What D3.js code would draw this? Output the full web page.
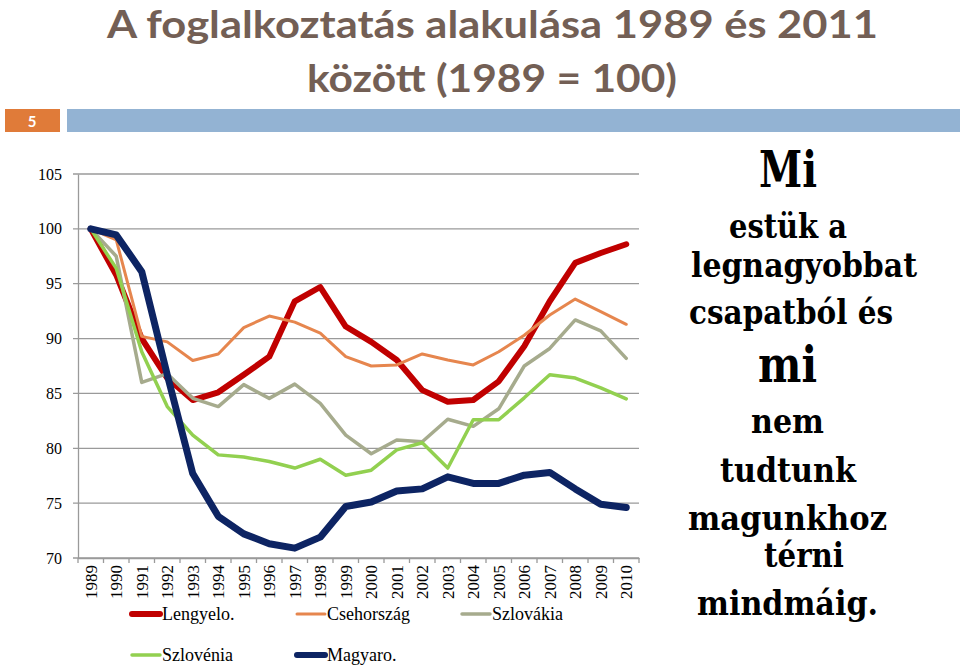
<!DOCTYPE html>
<html><head><meta charset="utf-8">
<script src="https://cdn.jsdelivr.net/npm/d3@7"></script>
<style>body{margin:0;background:#fff}svg{display:block}</style>
</head><body>
<svg id="c" width="960" height="665"></svg>
<script>
const years = ["1989","1990","1991","1992","1993","1994","1995","1996","1997","1998","1999","2000","2001","2002","2003","2004","2005","2006","2007","2008","2009","2010"];
const lengyelo   = [100,95.8,90.0,86.4,84.4,85.1,86.7,88.35,93.4,94.7,91.1,89.7,88.05,85.3,84.25,84.4,86.1,89.3,93.4,96.9,97.8,98.6];
const csehorszag = [100,99.0,90.2,89.7,88.0,88.6,91.0,92.05,91.5,90.5,88.35,87.5,87.6,88.6,88.05,87.6,88.8,90.3,92.15,93.6,92.45,91.3];
const szlovakia  = [100,97.5,86.0,86.8,84.55,83.8,85.8,84.55,85.85,84.1,81.2,79.5,80.75,80.6,82.65,82.0,83.6,87.5,89.1,91.7,90.7,88.2];
const szlovenia  = [100,96.4,88.8,83.8,81.2,79.4,79.2,78.8,78.2,79.0,77.55,78.0,79.85,80.5,78.2,82.6,82.6,84.6,86.7,86.4,85.5,84.5];
const magyaro    = [100,99.45,96.1,86.7,77.7,73.8,72.2,71.3,70.9,71.9,74.7,75.1,76.1,76.3,77.4,76.8,76.8,77.55,77.8,76.3,74.9,74.6];
const seriesNames = ["Lengyelo.","Csehország","Szlovákia","Szlovénia","Magyaro."];
const yTicks = [70,75,80,85,90,95,100,105];
const titleLines = ["A foglalkoztatás alakulása 1989 és 2011","között (1989 = 100)"];
const sideText = ["Mi","estük a","legnagyobbat","csapatból és","mi","nem","tudtunk","magunkhoz","térni","mindmáig."];

const series = [
  {name: seriesNames[0], values: lengyelo,   color:"#c00000", w:6},
  {name: seriesNames[1], values: csehorszag, color:"#e6864e", w:3},
  {name: seriesNames[2], values: szlovakia,  color:"#a6ab8d", w:3.5},
  {name: seriesNames[3], values: szlovenia,  color:"#92d050", w:3.5},
  {name: seriesNames[4], values: magyaro,    color:"#0d2463", w:7}
];

const svg = d3.select("#c");
const L = 78, R = 639, T = 174, B = 558;

// title
const titleStyle = [{x:107, y:38, len:771},{x:307, y:92, len:370}];
titleLines.forEach((t,i)=>{
  svg.append("text").attr("x", titleStyle[i].x).attr("y", titleStyle[i].y)
    .attr("textLength", titleStyle[i].len).attr("lengthAdjust","spacingAndGlyphs")
    .attr("font-family","Lato, 'Open Sans', sans-serif").attr("font-weight","bold")
    .attr("font-size", 38).attr("fill","#735f55").text(t);
});

// header bars
svg.append("rect").attr("x",5).attr("y",109).attr("width",55).attr("height",23).attr("fill","#e07b39");
svg.append("rect").attr("x",67).attr("y",109).attr("width",893).attr("height",23).attr("fill","#93b3d3");
svg.append("text").attr("x",32).attr("y",127).attr("text-anchor","middle")
  .attr("font-family","Lato, sans-serif").attr("font-weight","bold").attr("font-size",15)
  .attr("fill","#fff").text("5");

const x = d3.scaleBand().domain(years).range([L, R]);
const y = d3.scaleLinear().domain([70,105]).range([B, T]);

// gridlines
const g = svg.append("g");
g.selectAll("line.grid").data(yTicks).join("line")
  .attr("x1", L-5).attr("x2", R).attr("y1", d=>y(d)).attr("y2", d=>y(d))
  .attr("stroke","#9a9a9a").attr("stroke-width",1.3);

// y axis
const yAxis = d3.axisLeft(y).tickValues(yTicks).tickSize(0).tickPadding(16);
const ya = svg.append("g").attr("transform",`translate(${L},0)`).call(yAxis);
ya.select(".domain").attr("stroke","#9a9a9a").attr("stroke-width",1.3);
ya.selectAll("text").attr("font-family","'Liberation Serif', serif").attr("font-size",16).attr("fill","#000");

// x axis
const xAxis = d3.axisBottom(x).tickSize(0).tickPadding(0);
const xa = svg.append("g").attr("transform",`translate(0,${B})`).call(xAxis);
xa.select(".domain").attr("stroke","#9a9a9a").attr("stroke-width",1.3);
xa.selectAll(".tick text").attr("font-family","'Liberation Serif', serif").attr("font-size",17).attr("fill","#000")
  .attr("text-anchor","end").attr("transform","rotate(-90)").attr("x",-7).attr("y",0).attr("dy","0.35em");
// tick marks at band edges
const edges = years.map(d=>x(d)).concat([x(years[years.length-1])+x.bandwidth()]);
xa.selectAll("line.edge").data(edges).join("line").attr("class","edge")
  .attr("x1",d=>d).attr("x2",d=>d).attr("y1",0).attr("y2",5).attr("stroke","#9a9a9a").attr("stroke-width",1.3);

// lines
const line = d3.line().x((d,i)=>x(years[i])+x.bandwidth()/2).y(d=>y(d));
svg.append("g").selectAll("path").data(series).join("path")
  .attr("d", d=>line(d.values)).attr("fill","none")
  .attr("stroke", d=>d.color).attr("stroke-width", d=>d.w)
  .attr("stroke-linejoin","round").attr("stroke-linecap","round");

// legend
const legPos = [[132,614],[297,614],[462,614],[132,655],[297,655]];
const lg = svg.append("g");
series.forEach((s,i)=>{
  const [lx,ly] = legPos[i];
  lg.append("line").attr("x1",lx).attr("x2",lx+28).attr("y1",ly).attr("y2",ly)
    .attr("stroke",s.color).attr("stroke-width",Math.min(s.w,6)).attr("stroke-linecap","round");
  lg.append("text").attr("x",lx+30).attr("y",ly).attr("dy","0.35em")
    .attr("font-family","'Liberation Serif', serif").attr("font-size",18).attr("fill","#000").text(s.name);
});

// side text
const sidePos = [
  {x:759,y:187,len:58,fs:50},{x:729,y:238,len:118,fs:34},{x:691,y:277,len:226,fs:34},
  {x:689,y:324,len:204,fs:34},{x:758,y:382,len:59,fs:50},{x:751,y:433,len:73,fs:34},
  {x:720,y:482,len:136,fs:34},{x:688,y:530,len:199,fs:34},{x:764,y:567,len:80,fs:34},
  {x:697,y:615,len:181,fs:34}
];
sideText.forEach((t,i)=>{
  const p = sidePos[i];
  svg.append("text").attr("x",p.x).attr("y",p.y).attr("textLength",p.len).attr("lengthAdjust","spacingAndGlyphs")
    .attr("font-family","'DejaVu Serif', serif").attr("font-weight","bold").attr("font-size",p.fs)
    .attr("fill","#000").text(t);
});
</script>
</body></html>
